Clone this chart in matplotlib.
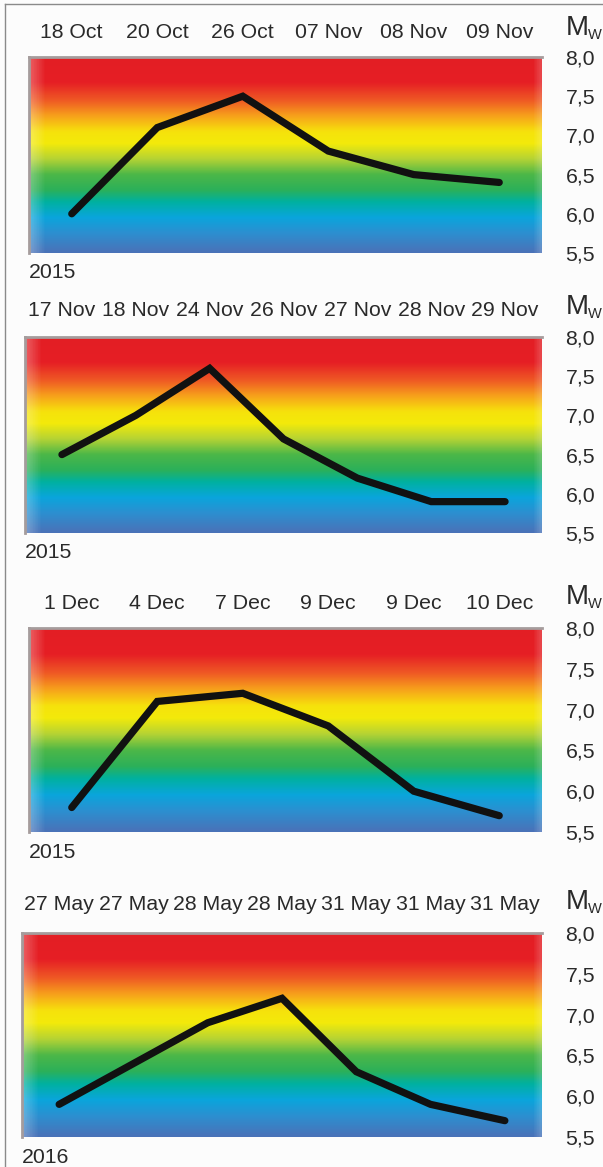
import numpy as np
import matplotlib
matplotlib.use("Agg")
import matplotlib.pyplot as plt
from matplotlib.colors import LinearSegmentedColormap
from matplotlib.ticker import FuncFormatter

plt.rcParams['font.family'] = ['Liberation Sans', 'DejaVu Sans']

# ---- data ----
labels_1 = ["18 Oct", "20 Oct", "26 Oct", "07 Nov", "08 Nov", "09 Nov"]
mw_1 = [6.0, 7.1, 7.5, 6.8, 6.5, 6.4]
year_1 = "2015"

labels_2 = ["17 Nov", "18 Nov", "24 Nov", "26 Nov", "27 Nov", "28 Nov", "29 Nov"]
mw_2 = [6.5, 7.0, 7.6, 6.7, 6.2, 5.9, 5.9]
year_2 = "2015"

labels_3 = ["1 Dec", "4 Dec", "7 Dec", "9 Dec", "9 Dec", "10 Dec"]
mw_3 = [5.8, 7.1, 7.2, 6.8, 6.0, 5.7]
year_3 = "2015"

labels_4 = ["27 May", "27 May", "28 May", "28 May", "31 May", "31 May", "31 May"]
mw_4 = [5.9, 6.4, 6.9, 7.2, 6.3, 5.9, 5.7]
year_4 = "2016"

y_ticks = [5.5, 6.0, 6.5, 7.0, 7.5, 8.0]
y_min, y_max = 5.5, 8.0

# ---- layout (pixels) ----
W, H = 603, 1167
boxes = [  # x0, y0, x1, y1 (pixels from top-left)
    (29, 57, 542, 253),
    (25, 337, 542, 533),
    (29, 628, 542, 832),
    (22, 933, 542, 1137),
]
label_pads = [10.5, 12.0, 10.5, 13.5]
mw_y = [28, 307, 597, 902]

panels = [
    (labels_1, mw_1, year_1),
    (labels_2, mw_2, year_2),
    (labels_3, mw_3, year_3),
    (labels_4, mw_4, year_4),
]

# gradient colormap in magnitude space
stops = [
    (5.5, "#4a72b8"),
    (5.75, "#2c8fd0"),
    (5.95, "#0aa5dc"),
    (6.15, "#00b1a0"),
    (6.3, "#2bb05a"),
    (6.5, "#4cb748"),
    (6.7, "#b5d334"),
    (6.9, "#f3ea0a"),
    (7.05, "#f6e20c"),
    (7.25, "#f7a21b"),
    (7.45, "#ef5a24"),
    (7.68, "#e61f25"),
    (8.0, "#e31e24"),
]
cmap = LinearSegmentedColormap.from_list(
    "mw", [((v - y_min) / (y_max - y_min), c) for v, c in stops])

fig = plt.figure(figsize=(W / 100, H / 100), dpi=100)
fig.patch.set_facecolor("#fcfcfc")

# frame lines of the original figure
fig.add_artist(plt.Line2D([5 / W, 5 / W], [0, 1 - 4 / H], color="#8a8a8a", lw=1.0))
fig.add_artist(plt.Line2D([5 / W, 1], [1 - 4 / H, 1 - 4 / H], color="#8a8a8a", lw=1.0))

fmt = FuncFormatter(lambda v, p: f"{v:.1f}".replace(".", ","))
txt_color = "#2a2a2a"

for (labels, vals, year), (x0, y0, x1, y1), lpad, my in zip(panels, boxes, label_pads, mw_y):
    ax = fig.add_axes([x0 / W, 1 - y1 / H, (x1 - x0) / W, (y1 - y0) / H])
    n = len(labels)
    ax.set_xlim(-0.5, n - 0.5)
    ax.set_ylim(y_min, y_max)
    grad = np.linspace(y_min, y_max, 400).reshape(-1, 1)
    ax.imshow(grad, cmap=cmap, aspect="auto", origin="lower",
              extent=(-0.5, n - 0.5, y_min, y_max), interpolation="bilinear", zorder=0)
    # soft side fade
    fade = np.zeros((1, 200, 4))
    fade[..., :3] = 1.0
    xs = np.linspace(0, 1, 200)
    fade[0, :, 3] = 0.28 * np.clip(1 - xs / 0.03, 0, 1) + 0.18 * np.clip((xs - 0.985) / 0.015, 0, 1)
    ax.imshow(fade, aspect="auto", extent=(-0.5, n - 0.5, y_min, y_max), zorder=1)

    ax.plot(range(n), vals, color="#111111", lw=5.2, solid_capstyle="round",
            solid_joinstyle="miter", zorder=3)

    ax.xaxis.tick_top()
    ax.set_xticks(range(n), labels)
    ax.tick_params(axis="x", length=0, pad=lpad, labelsize=15.3, labelcolor=txt_color)
    ax.yaxis.tick_right()
    ax.set_yticks(y_ticks)
    ax.yaxis.set_major_formatter(fmt)
    ax.tick_params(axis="y", length=0, pad=17, labelsize=15.3, labelcolor=txt_color)
    for lab in ax.get_yticklabels():
        lab.set_horizontalalignment("left")

    for s in ["bottom", "right"]:
        ax.spines[s].set_visible(False)
    for s in ["top", "left"]:
        ax.spines[s].set_color("#a59c9c")
        ax.spines[s].set_linewidth(2.0)

    # year label under the box
    ax.text(0.0, -0.10, year, transform=ax.transAxes, ha="left", va="center",
            fontsize=15.3, color=txt_color)

    # M_w label
    fig.text(566 / W, 1 - my / H, "M", ha="left", va="center", fontsize=20, color=txt_color)
    fig.text(588 / W, 1 - (my + 7) / H, "W", ha="left", va="center", fontsize=10.5, color=txt_color)

fig.savefig("out.png", dpi=100, facecolor=fig.get_facecolor())
